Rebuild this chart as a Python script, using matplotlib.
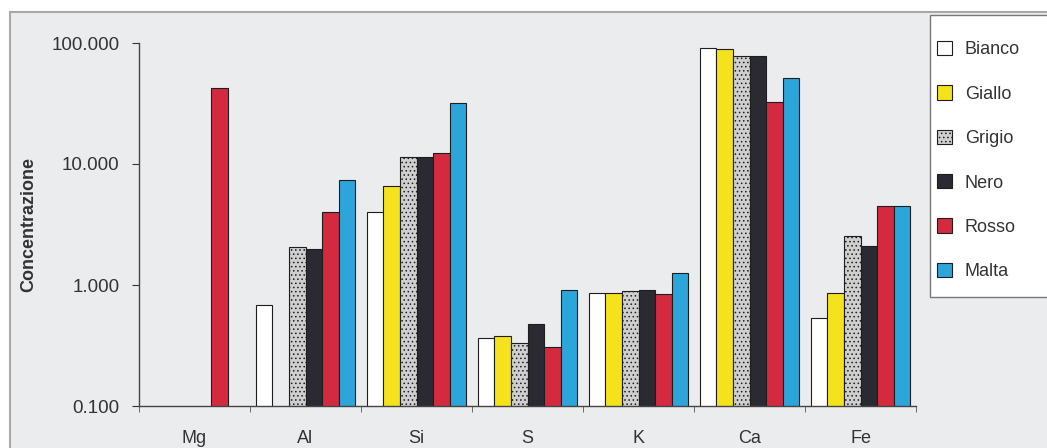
import numpy as np
import matplotlib
matplotlib.use("Agg")
import matplotlib.pyplot as plt
from matplotlib.patches import Rectangle
from matplotlib.ticker import FixedLocator, FixedFormatter, NullLocator

plt.rcParams['font.family'] = ['Liberation Sans', 'DejaVu Sans']
plt.rcParams['hatch.color'] = '#9a9a9a'
plt.rcParams['hatch.linewidth'] = 0.6

elements = ["Mg", "Al", "Si", "S", "K", "Ca", "Fe"]
series = ["Bianco", "Giallo", "Grigio", "Nero", "Rosso", "Malta"]

# concentrations read off the log scale (nan = no bar)
bianco = [np.nan, 0.68, 4.0, 0.365, 0.86, 91, 0.53]
giallo = [np.nan, np.nan, 6.6, 0.38, 0.86, 89, 0.86]
grigio = [np.nan, 2.05, 11.4, 0.33, 0.89, 78, 2.55]
nero = [np.nan, 2.0, 11.4, 0.476, 0.91, 78, 2.1]
rosso = [42.5, 4.0, 12.3, 0.31, 0.84, 32.5, 4.5]
malta = [np.nan, 7.4, 31.9, 0.91, 1.26, 51, 4.5]

values = [bianco, giallo, grigio, nero, rosso, malta]
colors = ['#ffffff', '#f4e21c', '#cfcfcf', '#2b2a33', '#d42a3f', '#2ca6da']
hatches = [None, None, '....', None, None, None]

W, H = 1047, 448
bg = '#ebecee'
fig = plt.figure(figsize=(W / 100, H / 100), dpi=100, facecolor='white')
# scanned page frame
fig.patches.append(Rectangle((10 / W, -0.01), 1.0, 1.01 - 12 / H, transform=fig.transFigure,
                             facecolor=bg, edgecolor='#a8a8a8', linewidth=1.5, zorder=-10))

ax = fig.add_axes([139 / W, 1 - 406 / H, (916 - 139) / W, (406 - 43) / H])
ax.set_facecolor('none')

x = np.arange(len(elements))
w = 0.15
for i, (name, vals) in enumerate(zip(series, values)):
    ax.bar(x + (i - 2.5) * w, vals, width=w, color=colors[i],
           edgecolor='#1e1e1e', linewidth=0.8, hatch=hatches[i], label=name)

ax.set_yscale('log')
ax.set_ylim(0.1, 100)
ax.set_xlim(-0.5, len(elements) - 0.5)

ax.yaxis.set_major_locator(FixedLocator([0.1, 1, 10, 100]))
ax.yaxis.set_major_formatter(FixedFormatter(["0.100", "1.000", "10.000", "100.000"]))
ax.yaxis.set_minor_locator(NullLocator())

ax.xaxis.set_major_locator(FixedLocator(x))
ax.set_xticklabels(elements)
ax.xaxis.set_minor_locator(FixedLocator(np.arange(len(elements) + 1) - 0.5))
ax.tick_params(axis='x', which='major', length=0, pad=17, labelsize=13, colors='#333333')
ax.tick_params(axis='x', which='minor', length=4, color='#555555')
ax.tick_params(axis='y', length=5, pad=9, labelsize=13.5, colors='#333333')

for s in ['top', 'right']:
    ax.spines[s].set_visible(False)
for s in ['left', 'bottom']:
    ax.spines[s].set_color('#444444')
    ax.spines[s].set_linewidth(1.0)

ax.set_ylabel("Concentrazione", fontsize=13, fontweight='bold', color='#333333')
ax.yaxis.set_label_coords(37 / W, 0.5, transform=fig.transFigure)

# legend box drawn by hand so it can run off the right edge like the scan
fig.patches.append(Rectangle((930 / W, 1 - 297 / H), 0.2, (297 - 15) / H,
                             transform=fig.transFigure, facecolor='white',
                             edgecolor='#777777', linewidth=1.0, zorder=-5))
leg = fig.legend(loc='upper left', bbox_to_anchor=(937 / W, 1 - 41 / H),
                 frameon=False, fontsize=13, labelspacing=1.49,
                 handlelength=0.85, handleheight=0.85, handletextpad=0.7,
                 borderpad=0, borderaxespad=0)
for t in leg.get_texts():
    t.set_color('#333333')

fig.savefig("out.png", dpi=100, facecolor=fig.get_facecolor())
